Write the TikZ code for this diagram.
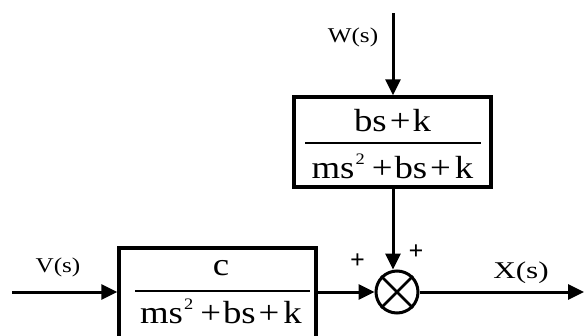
\documentclass[tikz,border=0pt]{standalone}
\usepackage{fontspec}
\setmainfont{Liberation Serif}
\newfontfamily\fracfont[FakeStretch=1.15]{Liberation Serif}
\newfontfamily\lblfont[FakeStretch=1.2]{Liberation Serif}
\newfontfamily\xfont[FakeStretch=1.3]{Liberation Serif}
\usetikzlibrary{arrows.meta}
\begin{document}
\begin{tikzpicture}[x=1pt,y=-1pt,
  blk/.style={draw,line width=3.5pt,inner sep=0pt,minimum width=197pt,minimum height=90pt},
  conn/.style={line width=3pt,-{Triangle[length=16pt,width=15pt]}},
  frac/.style={font=\fracfont\fontsize{32}{34}\selectfont,inner sep=0pt,anchor=base},
  fline/.style={line width=1.4pt},
  lbl/.style={font=\lblfont\fontsize{21}{23}\selectfont,inner sep=0pt,anchor=base},
  sgn/.style={font=\bfseries\fontsize{26}{26}\selectfont,inner sep=0pt}]
\useasboundingbox (0,0) rectangle (584,335);
% blocks
\node[blk] (top) at (392.5,142) {};
\node[blk] (bot) at (217.5,293) {};
\node[draw,circle,line width=3pt,minimum size=42pt,inner sep=0pt] (sum) at (397,292) {};
\draw[line width=2.6pt] (sum.north west) -- (sum.south east) (sum.north east) -- (sum.south west);
% fractions
\node[frac] (tn) at (392.5,131) {bs\kern3pt+\kern2pt k};
\draw[fline] (305,143) -- (481,143);
\node[frac] (td) at (392.5,178) {ms\kern1pt\raisebox{0.42em}{\fontsize{16}{16}\selectfont 2}\kern7pt+\kern2pt bs\kern3pt+\kern4pt k};
\node[frac] (bn) at (221,275) {c};
\draw[fline] (135,291) -- (310,291);
\node[frac] (bd) at (221,323) {ms\kern1pt\raisebox{0.42em}{\fontsize{16}{16}\selectfont 2}\kern7pt+\kern2pt bs\kern3pt+\kern4pt k};
% connectors
\coordinate (win) at (393,13);
\coordinate (vin) at (12,292);
\coordinate (xout) at (584,292);
\draw[conn] (win) -- (win |- top.north);
\draw[conn] (win |- top.south) -- (win |- sum.north);
\draw[conn] (vin) -- (bot.west |- vin);
\draw[conn] (bot.east |- sum.west) -- (sum.west);
\draw[conn] (sum.east) -- (xout);
% labels
\node[lbl] (wl) at (353,42) {W(s)};
\node[lbl] (vl) at (58,272) {V(s)};
\node[lbl,font=\xfont\fontsize{24}{26}\selectfont] (xl) at (521,278) {X(s)};
\node[sgn] (p1) at (357.5,261) {+};
\node[sgn] (p2) at (416,252) {+};
\end{tikzpicture}
\end{document}
